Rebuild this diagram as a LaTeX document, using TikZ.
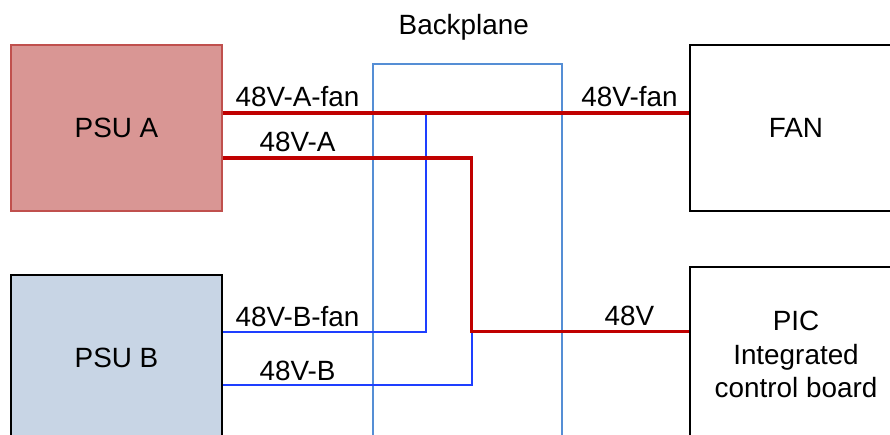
\documentclass[tikz,border=0pt]{standalone}
\usepackage{fontspec}
\setmainfont{Liberation Sans}
\definecolor{psuafill}{HTML}{D99694}
\definecolor{psuadraw}{HTML}{C0504D}
\definecolor{psubfill}{HTML}{C8D5E5}
\definecolor{bpblue}{HTML}{558ED5}
\definecolor{wirered}{HTML}{C00000}
\definecolor{wireblue}{HTML}{1E3FFF}
\begin{document}
\begin{tikzpicture}[x=0.75pt,y=-0.75pt,
  font=\fontsize{20.9}{25.2}\selectfont,
  box/.style={draw=black, line width=1.2pt, inner sep=0pt, align=center},
  bpbox/.style={draw=bpblue, line width=1.3pt, inner sep=0pt},
  redwire/.style={draw=wirered, line width=2.3pt},
  bluewire/.style={draw=wireblue, line width=1.5pt},
  lbl/.style={anchor=base, inner sep=0pt}]
\useasboundingbox (0,0) rectangle (890,435);
\clip (0,0) rectangle (890,435);
% boxes
\node[box, draw=psuadraw, fill=psuafill, minimum width=158.25pt, minimum height=124.5pt] (psuA) at (116.5,128) {PSU A};
\node[box, fill=psubfill, minimum width=158.25pt, minimum height=124.5pt] (psuB) at (116.5,358) {PSU B};
\node[box, minimum width=159pt, minimum height=124.5pt] (fan) at (796,128) {FAN};
\node[box, minimum width=159pt, minimum height=131pt] (pic) at (796,354.5) {PIC\\Integrated\\control board};
\node[bpbox, minimum width=141.75pt, minimum height=300pt] (bp) at (467.5,264) {};
\node[lbl] (lbp) at (463.8,35) {Backplane};
% junction coordinates
\coordinate (yAfan) at (0,113);
\coordinate (yA) at (0,158);
\coordinate (yB) at (0,384.5);
\coordinate (jA) at (426,113);
\coordinate (jB) at (471.5,331.5);
% blue wires
\draw[bluewire] (psuB.east |- jB) -- (jA |- jB) -- (jA);
\draw[bluewire] (psuB.east |- yB) -- (jB |- yB) -- (jB);
% red wires
\draw[redwire] (psuA.east |- yAfan) -- (fan.west |- yAfan);
\draw[redwire] (psuA.east |- yA) -- (jB |- yA) -- (jB) -- (pic.west |- jB);
% labels
\node[lbl] (lAfan) at (297.5,106.7) {48V-A-fan};
\node[lbl] (lA) at (297.5,151.7) {48V-A};
\node[lbl] (lfan) at (629.5,106.7) {48V-fan};
\node[lbl] (lBfan) at (297.5,326) {48V-B-fan};
\node[lbl] (lB) at (297.5,380.7) {48V-B};
\node[lbl] (l48) at (629.5,325) {48V};
\end{tikzpicture}
\end{document}
